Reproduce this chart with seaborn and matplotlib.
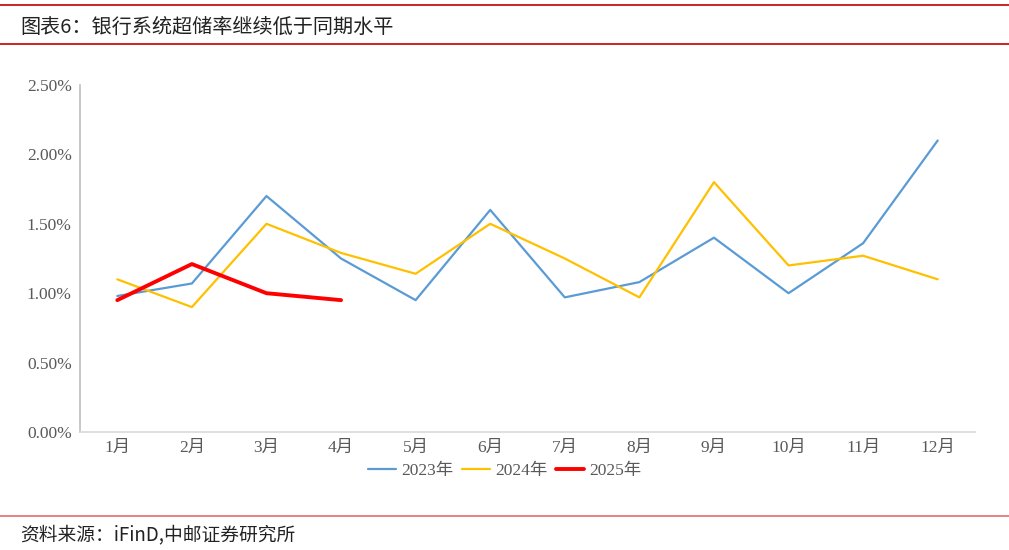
import pandas as pd
import matplotlib.pyplot as plt
import seaborn as sns
from matplotlib.ticker import FuncFormatter
from matplotlib.lines import Line2D

months = ["1月", "2月", "3月", "4月", "5月", "6月", "7月", "8月", "9月", "10月", "11月", "12月"]
y2023 = [0.98, 1.07, 1.70, 1.25, 0.95, 1.60, 0.97, 1.08, 1.40, 1.00, 1.36, 2.10]
y2024 = [1.10, 0.90, 1.50, 1.29, 1.14, 1.50, 1.25, 0.97, 1.80, 1.20, 1.27, 1.10]
y2025 = [0.95, 1.21, 1.00, 0.95]
years = ["2023年", "2024年", "2025年"]
colors = ["#5B9BD5", "#FFC000", "#FF0000"]
widths = [1.6, 1.6, 2.8]


def build_frame():
    rows = []
    for year, vals in zip(years, [y2023, y2024, y2025]):
        for m, v in zip(months, vals):
            rows.append({"month": m, "year": year, "value": v})
    df = pd.DataFrame(rows)
    df["month"] = pd.Categorical(df["month"], categories=months, ordered=True)
    return df


def main():
    sns.set_style("white")
    plt.rcParams["font.family"] = ["Liberation Serif", "Noto Sans CJK SC"]

    df = build_frame()

    fig = plt.figure(figsize=(10.09, 5.5), dpi=100)
    ax = fig.add_axes([0.0793, 0.2145, 0.887, 0.631])

    for year, c, lw in zip(years, colors, widths):
        sub = df[df["year"] == year]
        sns.lineplot(data=sub, x="month", y="value", color=c, linewidth=lw,
                     ax=ax, sort=False, legend=False)

    ax.set_xlim(-0.5, 11.5)
    ax.set_ylim(0, 2.5)
    ax.set_yticks([0, 0.5, 1.0, 1.5, 2.0, 2.5])
    ax.yaxis.set_major_formatter(FuncFormatter(lambda v, p: f"{v:.2f}%"))
    ax.set_xlabel("")
    ax.set_ylabel("")
    ax.tick_params(axis="both", length=0, labelsize=12.5, labelcolor="#595959", pad=6)

    for s in ["top", "right"]:
        ax.spines[s].set_visible(False)
    ax.spines["left"].set_color("#BFBFBF")
    ax.spines["bottom"].set_color("#D9D9D9")
    ax.spines["left"].set_linewidth(1.2)
    ax.spines["bottom"].set_linewidth(1.2)

    handles = [Line2D([0], [0], color=c, linewidth=lw) for c, lw in zip(colors, widths)]
    fig.legend(handles, years, loc="center", bbox_to_anchor=(0.5, 0.143), ncol=3,
               frameon=False, fontsize=12.5, handlelength=1.6, handletextpad=0.3,
               columnspacing=0.5, labelcolor="#595959")

    # header and footer rules
    for y, c, lw in [(0.991, "#C00000", 1.2), (0.92, "#C00000", 1.2), (0.062, "#E07070", 1.2)]:
        fig.add_artist(Line2D([0.0, 1.0], [y, y], color=c, linewidth=lw, transform=fig.transFigure))

    fig.text(0.02, 0.951, "图表6：银行系统超储率继续低于同期水平", fontsize=14.5,
             family=["Noto Sans CJK SC"], color="#222222", va="center", ha="left")
    fig.text(0.02, 0.027, "资料来源：iFinD,中邮证券研究所", fontsize=13.5,
             family=["Noto Sans CJK SC"], color="#222222", va="center", ha="left")

    fig.savefig("out.png", dpi=100)


if __name__ == "__main__":
    main()
